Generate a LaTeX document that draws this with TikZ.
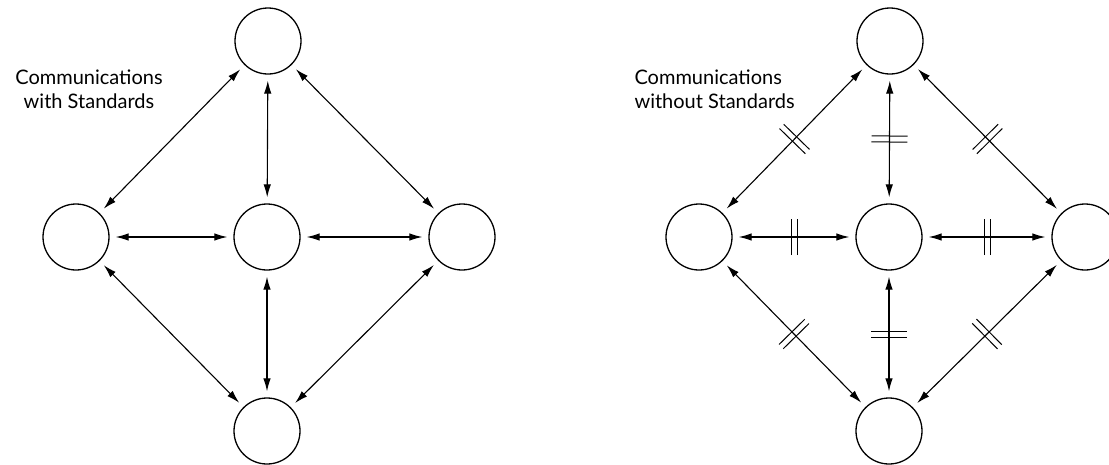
\documentclass[tikz,border=0pt]{standalone}
\usepackage{fontspec}
\setmainfont{Lato}
\usetikzlibrary{arrows.meta,decorations.markings}
\begin{document}
\begin{tikzpicture}[x=1pt,y=-1pt,
  station/.style={circle,draw,line width=1.3pt,minimum size=66pt,inner sep=0pt},
  link/.style={{Latex[length=13pt,width=7.5pt]}-{Latex[length=13pt,width=7.5pt]},line width=1.1pt,shorten <=6pt,shorten >=6pt},
  tick/.style={arrows=-,shorten <=0pt,shorten >=0pt,line width=1pt},
  broken/.style={link,postaction={decorate,decoration={markings,
      mark=at position 0.5 with {\draw[tick] (-3pt,-18pt)--(-3pt,18pt); \draw[tick] (3pt,-18pt)--(3pt,18pt);}}}},
  caption/.style={font=\fontsize{20}{24}\selectfont}]
\useasboundingbox (0,0) rectangle (1109,464);

% network where every pair of parties agrees on a standard
\node[station] (t1) at (268,41) {};
\node[station] (l1) at (76,237) {};
\node[station] (c1) at (267,237) {};
\node[station] (r1) at (462,237) {};
\node[station] (b1) at (267,431) {};
\node[caption,align=center] (cap1) at (89,89) {Communications\\with Standards};
\draw[link] (t1) -- (l1);
\draw[link] (t1) -- (r1);
\draw[link] (t1) -- (c1);
\draw[link] (l1) -- (c1);
\draw[link] (c1) -- (r1);
\draw[link] (c1) -- (b1);
\draw[link] (l1) -- (b1);
\draw[link] (r1) -- (b1);

% same network, every link broken
\node[station] (t2) at (890,41) {};
\node[station] (l2) at (699,237) {};
\node[station] (c2) at (889,237) {};
\node[station] (r2) at (1085,237) {};
\node[station] (b2) at (889,431) {};
\node[caption,align=left,anchor=west] (cap2) at (631,89) {Communications\\without Standards};
\draw[broken] (t2) -- (l2);
\draw[broken] (t2) -- (r2);
\draw[broken] (t2) -- (c2);
\draw[broken] (l2) -- (c2);
\draw[broken] (c2) -- (r2);
\draw[broken] (c2) -- (b2);
\draw[broken] (l2) -- (b2);
\draw[broken] (r2) -- (b2);
\end{tikzpicture}
\end{document}
